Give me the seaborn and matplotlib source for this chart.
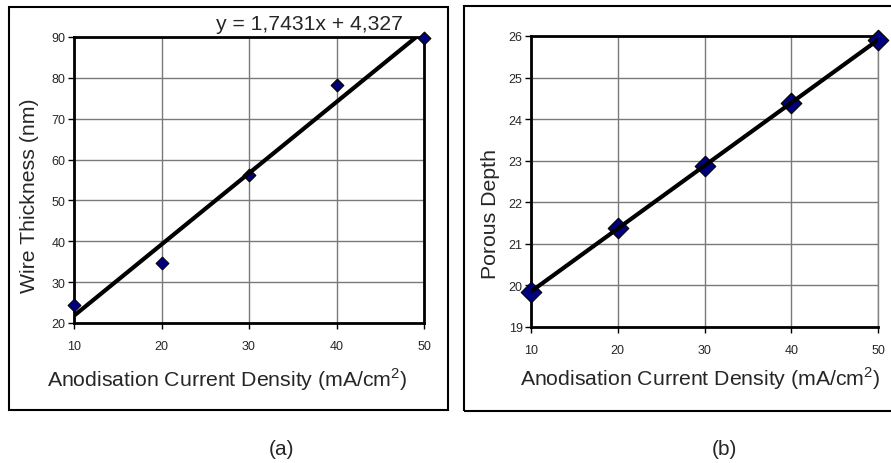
import matplotlib
matplotlib.use("Agg")
import matplotlib.pyplot as plt
import seaborn as sns
import numpy as np
import pandas as pd
from matplotlib.patches import Rectangle

# ---- data ----
current_density = [10, 20, 30, 40, 50]
wire_thickness = [24.3, 34.7, 56.3, 78.3, 89.7]
porous_depth = [19.85, 21.37, 22.88, 24.40, 25.90]
x_ticks = [10, 20, 30, 40, 50]
y_ticks_a = [20, 30, 40, 50, 60, 70, 80, 90]
y_ticks_b = [19, 20, 21, 22, 23, 24, 25, 26]
equation_a = "y = 1,7431x + 4,327"
xlabel = "Anodisation Current Density (mA/cm$^2$)"
ylabel_a = "Wire Thickness (nm)"
ylabel_b = "Porous Depth"

df = pd.DataFrame({"x": current_density, "a": wire_thickness, "b": porous_depth})

sns.set_style("white")
plt.rcParams["font.family"] = ["Liberation Sans", "DejaVu Sans"]
plt.rcParams["mathtext.fontset"] = "custom"
plt.rcParams["mathtext.rm"] = "Liberation Sans"

fig = plt.figure(figsize=(8.91, 4.64), dpi=100)

# outer frames
fig.patches.append(Rectangle((9 / 891, 1 - 411 / 464), (448 - 9) / 891, (411 - 8) / 464,
                             transform=fig.transFigure, fill=False, edgecolor="black", lw=1.5))
fig.patches.append(Rectangle((464 / 891, 1 - 412 / 464), (900 - 464) / 891, (412 - 7) / 464,
                             transform=fig.transFigure, fill=False, edgecolor="black", lw=1.5))

ax_a = fig.add_axes([74 / 891, 1 - 324 / 464, 350 / 891, 286 / 464])
ax_b = fig.add_axes([531 / 891, 1 - 328 / 464, 347 / 891, 291 / 464])

marker_face = "#00007f"

sns.regplot(data=df, x="x", y="a", ax=ax_a, ci=None, marker="D",
            scatter_kws=dict(s=42, color=marker_face, edgecolors="black", linewidths=0.8,
                             alpha=1, clip_on=False, zorder=3),
            line_kws=dict(color="black", lw=3, zorder=4))
sns.regplot(data=df, x="x", y="b", ax=ax_b, ci=None, marker="D",
            scatter_kws=dict(s=110, color=marker_face, edgecolors="black", linewidths=0.8,
                             alpha=1, clip_on=False, zorder=3),
            line_kws=dict(color="black", lw=3, zorder=4))

for ax, yt, yl, lab, lc, side_grey in [
        (ax_a, y_ticks_a, ylabel_a, ((30 - 74) / 350, (324 - 196) / 286), ((227.5 - 74) / 350, (324 - 380) / 286), False),
        (ax_b, y_ticks_b, ylabel_b, ((490 - 531) / 347, (328 - 214) / 291), ((700.5 - 531) / 347, (328 - 379) / 291), True)]:
    ax.set_xlim(10, 50)
    ax.set_ylim(yt[0], yt[-1])
    ax.set_xticks(x_ticks)
    ax.set_yticks(yt)
    ax.grid(True, color="#7a7a7a", lw=1)
    ax.set_axisbelow(True)
    ax.tick_params(axis="both", which="major", direction="out", length=4, width=1,
                   labelsize=9, color="black", pad=2, bottom=True, left=True)
    ax.tick_params(axis="x", pad=8)
    for s in ["left", "bottom", "top", "right"]:
        ax.spines[s].set_visible(True)
        ax.spines[s].set_color("black")
        ax.spines[s].set_linewidth(2)
    if side_grey:
        ax.spines["right"].set_color("#808080")
        ax.spines["right"].set_linewidth(1)
    ax.set_xlabel(xlabel, fontsize=15.3)
    ax.xaxis.set_label_coords(*lc)
    ax.xaxis.label.set_va("center")
    ax.set_ylabel(yl, fontsize=15.3)
    ax.yaxis.set_label_coords(*lab)
    ax.yaxis.label.set_va("center")

ax_a.text((310 - 74) / 350, (324 - 25) / 286, equation_a, transform=ax_a.transAxes,
          ha="center", va="center", fontsize=15.2)

fig.text(282 / 891, 1 - 450 / 464, "(a)", ha="center", va="center", fontsize=15)
fig.text(724 / 891, 1 - 450 / 464, "(b)", ha="center", va="center", fontsize=15)

fig.savefig("out.png", dpi=100)
